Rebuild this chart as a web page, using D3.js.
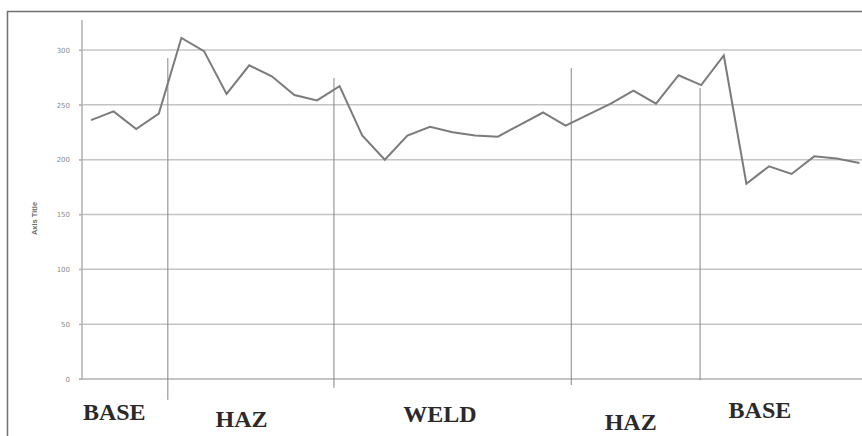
<!DOCTYPE html>
<html>
<head>
<meta charset="utf-8">
<script src="https://cdn.jsdelivr.net/npm/d3@7/dist/d3.min.js"></script>
<style>
  html, body { margin: 0; padding: 0; background: #fff; }
  svg { display: block; }
</style>
</head>
<body>
<script>
// Hardness readings across the welded joint (one reading per indent)
const hardness = [
  236, 244, 228, 242, 311, 299, 260, 286, 276, 259,
  254, 267, 222, 200, 222, 230, 225, 222, 221, 232,
  243, 231, 241, 251, 263, 251, 277, 268, 295, 178,
  194, 187, 203, 201, 197
];
const yTicks = [0, 50, 100, 150, 200, 250, 300];
const zoneNames = ["BASE", "HAZ", "WELD", "HAZ", "BASE"];
// Zone boundaries, expressed as indent positions
const zoneBounds = [3.4, 10.75, 21.25, 26.95];
const yTitle = "Axis Title";

const W = 862, H = 436;
const svg = d3.select("body").append("svg").attr("width", W).attr("height", H);

const x = d3.scaleLinear().domain([0, hardness.length - 1]).range([91, 859.4]);
const y = d3.scaleLinear().domain([0, 300]).range([379, 50]);

// outer frame (top and left edges)
svg.append("path")
  .attr("d", "M7.5,436 L7.5,11.5 L862,11.5")
  .attr("fill", "none").attr("stroke", "#707070").attr("stroke-width", 1.5);

// horizontal gridlines
svg.append("g").selectAll("line").data(yTicks).join("line")
  .attr("x1", 79).attr("x2", 862)
  .attr("y1", d => y(d)).attr("y2", d => y(d))
  .attr("stroke", d => d === 0 ? "#b0b0b0" : "#c4c4c4").attr("stroke-width", 1.5);

// y axis
const yAxis = d3.axisLeft(y).tickValues(yTicks).tickSize(3).tickPadding(9);
const gy = svg.append("g").attr("transform", "translate(82,0)").call(yAxis);
gy.select(".domain").remove();
gy.selectAll(".tick line").attr("stroke", "#b0b0b0");
gy.selectAll(".tick text")
  .attr("fill", "#8a8a8a").attr("font-family", "DejaVu Sans, sans-serif").attr("font-size", 7);
svg.append("line")
  .attr("x1", 82).attr("x2", 82).attr("y1", 20).attr("y2", y(0))
  .attr("stroke", "#b0b0b0").attr("stroke-width", 1.5);

svg.append("text")
  .attr("transform", `translate(37,${(y(0) + y(300)) / 2 + 4}) rotate(-90)`)
  .attr("text-anchor", "middle")
  .attr("font-family", "Liberation Sans, Arial, sans-serif")
  .attr("font-weight", "bold").attr("font-size", 7.5).attr("fill", "#6a6a6a")
  .text(yTitle);

// zone separator lines
const sepTop = [292.7, 274.5, 283.6, 265.3];
const sepBottom = [-19, -8, -5.5, -1];
svg.append("g").selectAll("line").data(zoneBounds).join("line")
  .attr("x1", d => x(d)).attr("x2", d => x(d))
  .attr("y1", (d, i) => y(sepTop[i])).attr("y2", (d, i) => y(sepBottom[i]))
  .attr("stroke", "#858585").attr("stroke-width", 1);

// hardness profile
svg.append("path")
  .datum(hardness)
  .attr("fill", "none").attr("stroke", "#7b7b7b").attr("stroke-width", 2)
  .attr("stroke-linejoin", "miter")
  .attr("d", d3.line().x((d, i) => x(i)).y(d => y(d)));

// zone names below the axis
const labelCx = [1.03, 6.66, 15.44, 23.88, 29.6];
const labelBase = [420, 426.7, 421.7, 430, 418.3];
svg.append("g").selectAll("text").data(zoneNames).join("text")
  .attr("x", (d, i) => x(labelCx[i]))
  .attr("y", (d, i) => labelBase[i])
  .attr("text-anchor", "middle")
  .attr("font-family", "Liberation Serif, 'Times New Roman', serif")
  .attr("font-weight", "bold").attr("font-size", 24).attr("fill", "#2a2a2a")
  .text(d => d);
</script>
</body>
</html>
